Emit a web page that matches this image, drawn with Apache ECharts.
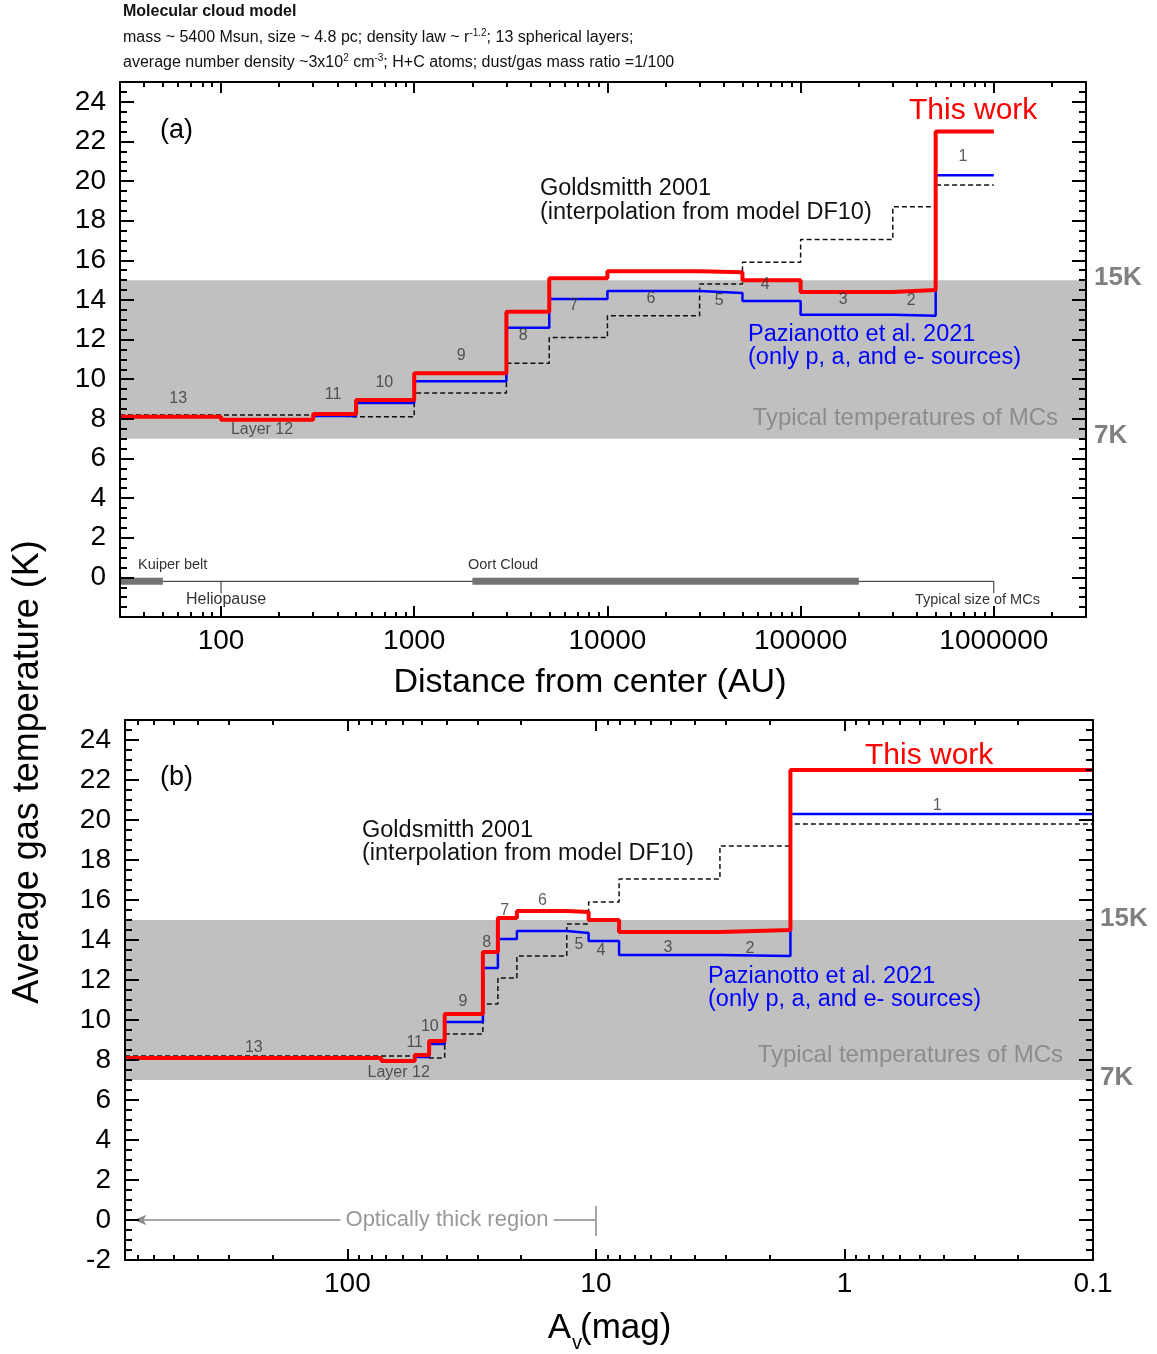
<!DOCTYPE html>
<html>
<head>
<meta charset="utf-8">
<script src="https://cdn.jsdelivr.net/npm/echarts@6/dist/echarts.min.js"></script>
<style>
html, body { margin: 0; padding: 0; background: #fff; }
#main { width: 1157px; height: 1354px; }
</style>
</head>
<body>
<div id="main"></div>
<script>
// layer boundaries (13 layers, outermost = 1)
var layerNames = ['13', 'Layer 12', '11', '10', '9', '8', '7', '6', '5', '4', '3', '2', '1'];
var distEdges = [30, 100, 300, 500, 1000, 3000, 5000, 10000, 30000, 50000, 100000, 300000, 500000, 1000000];
var avEdges = [785, 73, 53.6, 46.9, 40.6, 28.5, 24.8, 20.8, 13.1, 10.7, 8.07, 3.17, 1.65, 0.1];

// average gas temperature per layer (K), layer 13 -> layer 1
var tempThisWork   = [8.1, 7.95, 8.25, 8.95, 10.3, 13.4, 15.1, 15.45, 15.4, 15.0, 14.4, 14.5, 22.5];
var tempPazianotto = [8.1, 7.95, 8.15, 8.8, 9.9, 12.6, 14.05, 14.45, 14.35, 13.95, 13.25, 13.2, 20.3];
var tempGoldsmith  = [8.2, 8.2, 8.1, 8.1, 9.3, 10.8, 12.1, 13.2, 14.8, 15.9, 17.05, 18.7, 19.8];

var mcBand = [7, 15];

// where the layer numbers sit (data coords)
var labelPosA = [[60, 9.0], [163, 7.45], [380, 9.2], [700, 9.85], [1750, 11.2], [3660, 12.2], [6700, 13.7],
                 [16800, 14.05], [37900, 13.95], [65500, 14.8], [166000, 14.0], [373000, 13.95], [692000, 21.25]];
var labelPosB = [[238, 8.6], [62.2, 7.35], [53.6, 8.85], [46.6, 9.65], [34.3, 10.9], [27.5, 13.85], [23.3, 15.45],
                 [16.4, 15.95], [11.7, 13.75], [9.55, 13.45], [5.13, 13.6], [2.4, 13.55], [0.424, 20.7]];

// solar system scales, panel (a)
var kuiperBelt = [30, 50];
var oortCloud = [2000, 200000];
var heliopause = 100;
var mcSize = 1000000;
var scaleLineT = -0.2;

// optically thick region, panel (b)
var opticallyThick = [720, 10];

// ticks
var distTicks = [100, 1000, 10000, 100000, 1000000];
var avTicks = [100, 10, 1, 0.1];
var tempLabelsA = [0, 2, 4, 6, 8, 10, 12, 14, 16, 18, 20, 22, 24];
var tempLabelsB = [-2, 0, 2, 4, 6, 8, 10, 12, 14, 16, 18, 20, 22, 24];

var FONT = '"Liberation Sans", Arial, sans-serif';

function minorLogTicks(lo, hi) {
    var out = [];
    for (var k = -2; k <= 7; k++) {
        for (var m = 2; m <= 9; m++) {
            var v = +(m * Math.pow(10, k)).toPrecision(3);
            if (v > lo && v < hi) out.push(v);
        }
    }
    return out;
}
var tempMinor = [];
for (var t = -2; t <= 25; t += 0.5) tempMinor.push(t);

function xAxisSet(grid, min, max, inverse, majors, fmt) {
    var minors = minorLogTicks(min, max);
    function ax(pos, ticks, len, line, labels) {
        return {
            type: 'log', logBase: 10, gridIndex: grid, min: min, max: max, inverse: inverse,
            position: pos, z: 10, splitLine: {show: false}, minorTick: {show: false},
            axisLine: {show: line, onZero: false, lineStyle: {color: '#000', width: 2}},
            axisTick: {show: true, inside: true, length: len, customValues: ticks,
                       lineStyle: {color: '#000', width: 2}},
            axisLabel: labels ? {show: true, customValues: majors, formatter: fmt, fontSize: 28,
                                 fontFamily: FONT, color: '#000', margin: 10} : {show: false}
        };
    }
    return [ax('bottom', majors, 11, true, true), ax('bottom', minors, 5, false, false),
            ax('top', majors, 11, true, false), ax('top', minors, 5, false, false)];
}

function yAxisSet(grid, labels) {
    function ax(pos, ticks, len, line, lab) {
        return {
            type: 'value', gridIndex: grid, min: -2, max: 25, position: pos, z: 10,
            splitLine: {show: false},
            axisLine: {show: line, onZero: false, lineStyle: {color: '#000', width: 2}},
            axisTick: {show: true, inside: true, length: len, customValues: ticks,
                       lineStyle: {color: '#000', width: 2}},
            axisLabel: lab ? {show: true, customValues: labels, fontSize: 28, fontFamily: FONT,
                              color: '#000', margin: 14} : {show: false}
        };
    }
    return [ax('left', tempLabelsB, 14, true, true), ax('left', tempMinor, 7, false, false),
            ax('right', tempLabelsB, 14, true, false), ax('right', tempMinor, 7, false, false)];
}

function stepSeries(xi, edges, temps, color, width, dashed, z) {
    var data = temps.map(function (tv, i) { return [edges[i], tv]; });
    data.push([edges[edges.length - 1], temps[temps.length - 1]]);
    return {
        type: 'line', xAxisIndex: xi, yAxisIndex: xi, data: data, step: 'end',
        showSymbol: false, symbol: 'none', z: z, silent: true, animation: false,
        lineStyle: {color: color, width: width, type: dashed ? [5, 3] : 'solid'}
    };
}

function bandSeries(xi) {
    return {
        type: 'line', xAxisIndex: xi, yAxisIndex: xi, data: [], silent: true, z: 1,
        markArea: {silent: true, itemStyle: {color: '#c0c0c0'},
                   data: [[{yAxis: mcBand[0]}, {yAxis: mcBand[1]}]]}
    };
}

function labelSeries(xi, pos) {
    return {
        type: 'scatter', xAxisIndex: xi, yAxisIndex: xi, symbolSize: 0, silent: true, z: 6,
        itemStyle: {color: 'transparent'},
        data: pos.map(function (p, i) { return {name: layerNames[i], value: p}; }),
        label: {show: true, position: 'inside', formatter: '{b}', color: '#333', fontSize: 16, fontFamily: FONT}
    };
}

function segSeries(data, color, width) {
    return {type: 'line', xAxisIndex: 0, yAxisIndex: 0, data: data, showSymbol: false, symbol: 'none',
            silent: true, z: 4, lineStyle: {color: color, width: width}};
}

function txt(x, y, text, size, color, align, bold) {
    return {
        type: 'text', x: x, y: y, silent: true, z: 20,
        style: {text: text, fontSize: size, fontFamily: FONT, fontWeight: bold ? 'bold' : 'normal',
                fill: color, align: align || 'left', textAlign: align || 'left',
                verticalAlign: 'middle', textVerticalAlign: 'middle'}
    };
}

function richLine(y, text) {
    return {
        type: 'text', x: 123, y: y, silent: true,
        style: {
            text: text, verticalAlign: 'middle', textVerticalAlign: 'middle',
            rich: {
                t: {fontSize: 16, fontFamily: FONT, fill: '#111', color: '#111', lineHeight: 20},
                s: {fontSize: 10, fontFamily: FONT, fill: '#111', color: '#111', lineHeight: 12, verticalAlign: 'top'}
            }
        }
    };
}

var chart = echarts.init(document.getElementById('main'));

var option = {
    backgroundColor: '#fff',
    animation: false,
    grid: [
        {left: 120, top: 82, width: 966, height: 535},
        {left: 125, top: 720, width: 968, height: 540}
    ],
    xAxis: xAxisSet(0, 30, 3000000, false, distTicks, function (v) { return String(Math.round(v)); })
        .concat(xAxisSet(1, 0.1, 785, true, avTicks, function (v) { return v < 1 ? v.toFixed(1) : String(Math.round(v)); })),
    yAxis: (function () {
        var a = yAxisSet(0, tempLabelsA);
        a[0].axisLabel.customValues = tempLabelsA;
        return a.concat(yAxisSet(1, tempLabelsB));
    })(),
    series: [
        bandSeries(0),
        stepSeries(0, distEdges, tempGoldsmith, '#111', 1.5, true, 3),
        stepSeries(0, distEdges, tempPazianotto, '#0000ff', 2.5, false, 4),
        stepSeries(0, distEdges, tempThisWork, '#ff0000', 4, false, 5),
        labelSeries(0, labelPosA),
        segSeries([[distEdges[0], scaleLineT], [mcSize, scaleLineT]], '#222', 1),
        segSeries([[kuiperBelt[0], scaleLineT], [kuiperBelt[1], scaleLineT]], '#737373', 7),
        segSeries([[oortCloud[0], scaleLineT], [oortCloud[1], scaleLineT]], '#737373', 7),
        segSeries([[heliopause, scaleLineT], [heliopause, scaleLineT - 0.6]], '#222', 1),
        segSeries([[mcSize, scaleLineT], [mcSize, scaleLineT - 0.6]], '#222', 1),

        bandSeries(4),
        stepSeries(4, avEdges, tempGoldsmith, '#111', 1.5, true, 3),
        stepSeries(4, avEdges, tempPazianotto, '#0000ff', 2.5, false, 4),
        stepSeries(4, avEdges, tempThisWork, '#ff0000', 4, false, 5),
        labelSeries(4, labelPosB),
        {
            type: 'line', xAxisIndex: 4, yAxisIndex: 4, data: [], silent: true, z: 4,
            markLine: {
                silent: true, animation: false, label: {show: false},
                lineStyle: {color: '#8a8a8a', width: 1.5, type: 'solid'},
                data: [
                    [{coord: [opticallyThick[0], 0], symbol: 'arrow', symbolSize: [8, 12]},
                     {coord: [opticallyThick[1], 0], symbol: 'none'}],
                    [{coord: [opticallyThick[1], 0.7], symbol: 'none'},
                     {coord: [opticallyThick[1], -0.8], symbol: 'none'}]
                ]
            }
        }
    ],
    graphic: [
        txt(123, 12, 'Molecular cloud model', 16, '#111', 'left', true),
        richLine(38, '{t|mass ~ 5400 Msun, size ~ 4.8 pc; density law ~ r}{s|-1.2}{t|; 13 spherical layers;}'),
        richLine(63, '{t|average number density ~3x10}{s|2}{t| cm}{s|-3}{t|; H+C atoms; dust/gas mass ratio =1/100}'),
        {
            type: 'text', x: 28, y: 772, rotation: Math.PI / 2, silent: true,
            style: {text: 'Average gas temperature (K)', fontSize: 36, fontFamily: FONT, fill: '#000',
                    align: 'center', textAlign: 'center', verticalAlign: 'middle', textVerticalAlign: 'middle'}
        },
        txt(590, 683, 'Distance from center (AU)', 34, '#000', 'center'),
        txt(571, 1328, 'A', 35, '#000', 'right'),
        txt(572, 1343, 'v', 20, '#000', 'left'),
        txt(580, 1328, '(mag)', 35, '#000', 'left'),

        // panel (a)
        txt(160, 131, '(a)', 27, '#000'),
        txt(909, 111, 'This work', 30, '#ff0000'),
        txt(540, 189, 'Goldsmitth 2001', 23.5, '#111'),
        txt(540, 213, '(interpolation from model DF10)', 23.5, '#111'),
        txt(748, 335, 'Pazianotto et al. 2021', 23.5, '#0000ff'),
        txt(748, 358, '(only p, a, and e- sources)', 23.5, '#0000ff'),
        txt(1058, 418, 'Typical temperatures of MCs', 24, '#8c8c8c', 'right'),
        txt(1094, 278, '15K', 26, '#808080', 'left', true),
        txt(1094, 436, '7K', 26, '#808080', 'left', true),
        txt(138, 565, 'Kuiper belt', 14.5, '#333'),
        txt(468, 565, 'Oort Cloud', 14.5, '#333'),
        txt(186, 600, 'Heliopause', 16, '#333'),
        txt(915, 600, 'Typical size of MCs', 14.5, '#333'),

        // panel (b)
        txt(160, 778, '(b)', 27, '#000'),
        txt(865, 756, 'This work', 30, '#ff0000'),
        txt(362, 831, 'Goldsmitth 2001', 23.5, '#111'),
        txt(362, 854, '(interpolation from model DF10)', 23.5, '#111'),
        txt(708, 977, 'Pazianotto et al. 2021', 23.5, '#0000ff'),
        txt(708, 1000, '(only p, a, and e- sources)', 23.5, '#0000ff'),
        txt(1063, 1055, 'Typical temperatures of MCs', 24, '#8c8c8c', 'right'),
        txt(1100, 919, '15K', 26, '#808080', 'left', true),
        txt(1100, 1078, '7K', 26, '#808080', 'left', true),
        {
            type: 'text', x: 447, y: 1220, silent: true, z: 20,
            style: {text: 'Optically thick region', fontSize: 22, fontFamily: FONT, fill: '#999',
                    backgroundColor: '#fff', padding: [2, 5],
                    align: 'center', textAlign: 'center', verticalAlign: 'middle', textVerticalAlign: 'middle'}
        }
    ]
};

chart.setOption(option);
window.onresize = chart.resize;
</script>
</body>
</html>
